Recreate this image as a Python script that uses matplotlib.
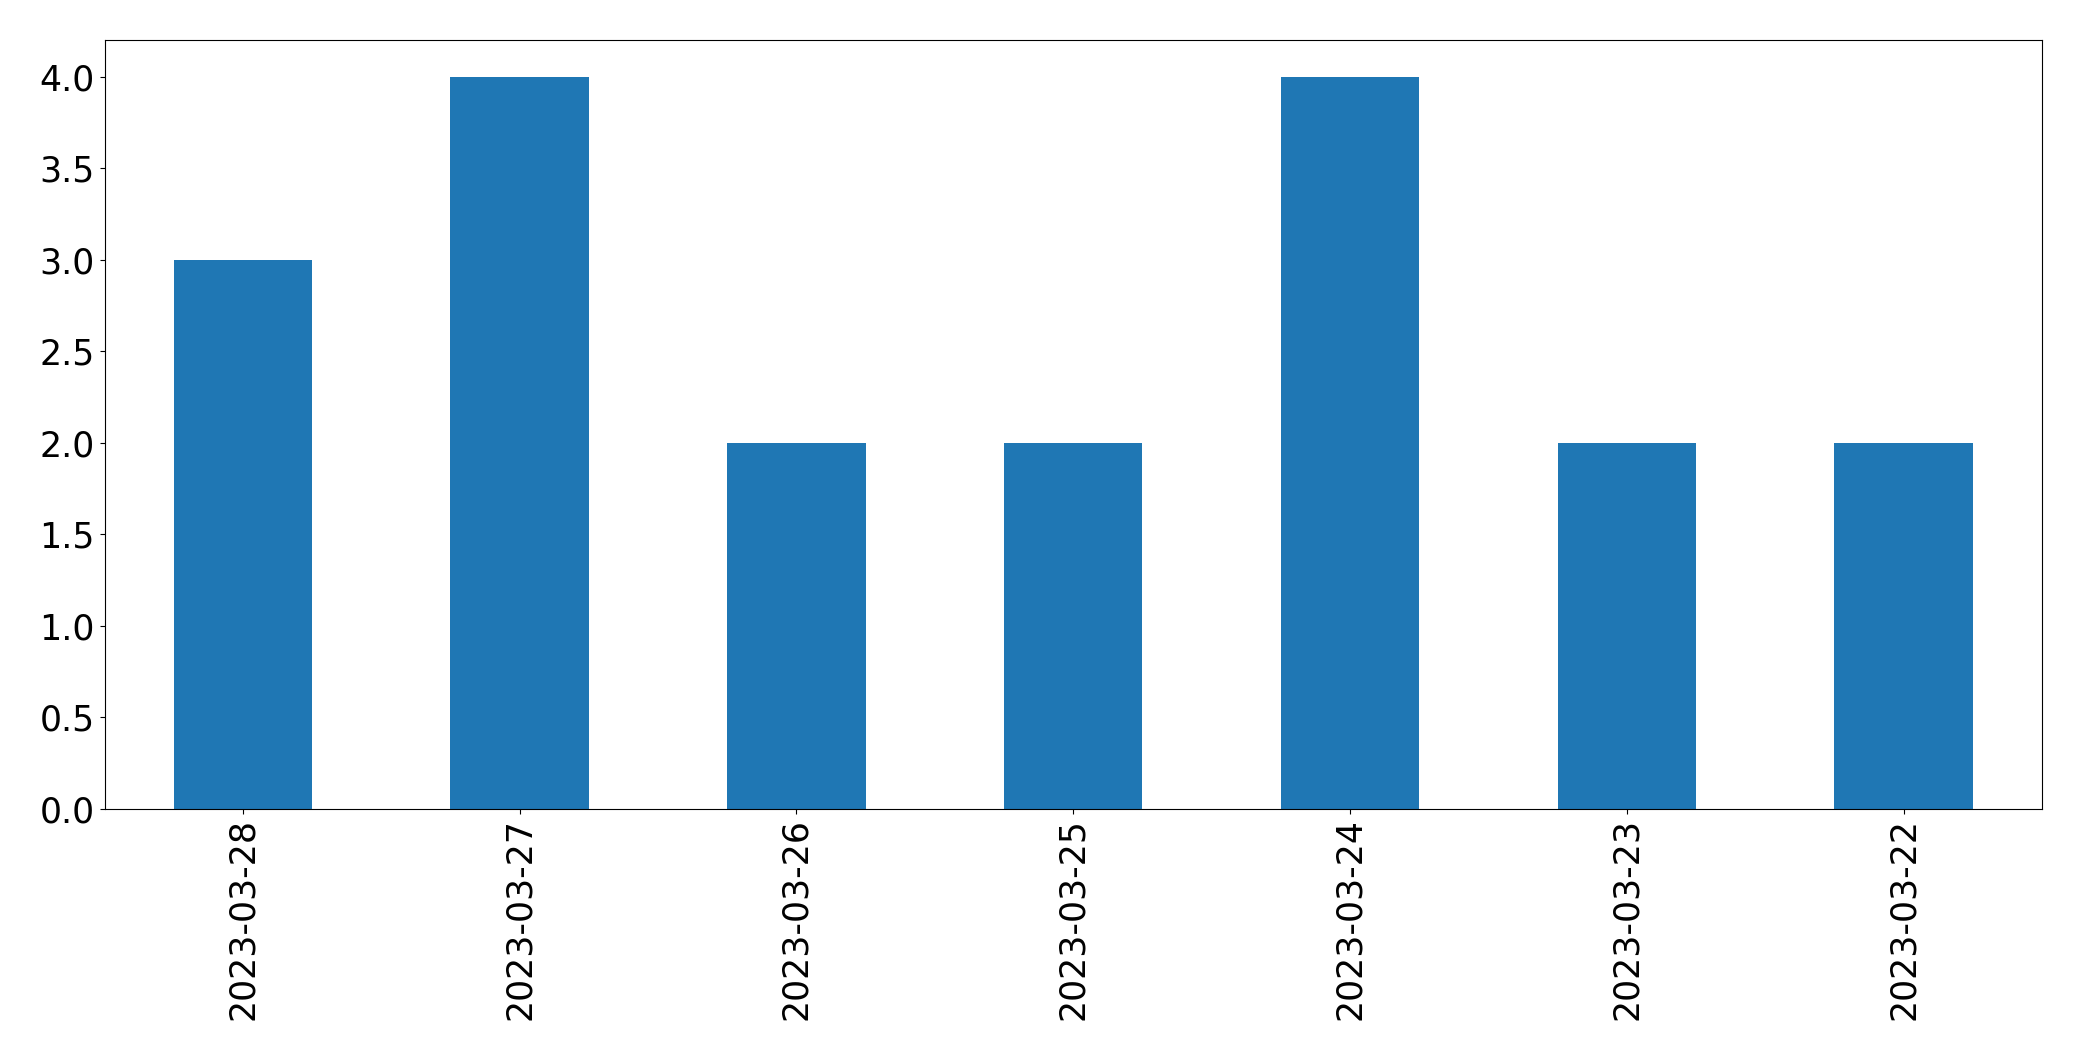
import matplotlib
matplotlib.use("Agg")
import matplotlib.pyplot as plt
import pandas as pd

dates = ["2023-03-28", "2023-03-27", "2023-03-26", "2023-03-25",
         "2023-03-24", "2023-03-23", "2023-03-22"]
counts = [3, 4, 2, 2, 4, 2, 2]

fig = plt.figure(figsize=(20.82, 10.61), dpi=100)
ax = fig.add_axes([104.5 / 2082, 1 - 808.6 / 1061, (2042 - 104.5) / 2082, (808.6 - 40) / 1061])
s = pd.Series(counts, index=dates)
s.plot(kind="bar", ax=ax, color="#1f77b4", width=0.5)
ax.tick_params(labelsize=25)
ax.set_xlabel("")
fig.savefig("out.png", dpi=100)
